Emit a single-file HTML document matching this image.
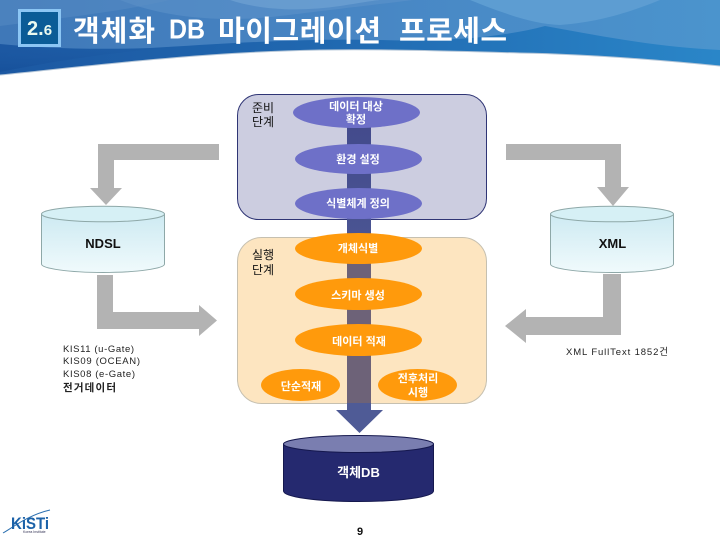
<!DOCTYPE html>
<html lang="ko">
<head>
<meta charset="utf-8">
<style>
html,body{margin:0;padding:0;background:#fff}
svg{display:block}
text{font-family:"Liberation Sans","Noto Sans CJK KR","NanumGothic",sans-serif}
</style>
</head>
<body>
<svg xmlns="http://www.w3.org/2000/svg" width="720" height="540" viewBox="0 0 720 540">
<defs>
<linearGradient id="hd" x1="0" y1="0" x2="1" y2="0">
<stop offset="0" stop-color="#1c58a2"/><stop offset=".45" stop-color="#2068b0"/><stop offset="1" stop-color="#2a86c8"/>
</linearGradient>
<linearGradient id="hl" x1="0" y1="0" x2="1" y2="0">
<stop offset="0" stop-color="#3f78b8"/><stop offset=".5" stop-color="#4886c4"/><stop offset="1" stop-color="#4b94cd"/>
</linearGradient>
<linearGradient id="cy" x1="0" y1="0" x2="0" y2="1">
<stop offset="0" stop-color="#cdeaf2"/><stop offset="1" stop-color="#f0fafc"/>
</linearGradient>
<linearGradient id="ar" x1="0" y1="0" x2="0" y2="1">
<stop offset="0" stop-color="#434a8c"/><stop offset="1" stop-color="#4a5492"/>
</linearGradient>
<linearGradient id="sh" x1="0" y1="0" x2="0" y2="1">
<stop offset="0" stop-color="#1c58a2" stop-opacity="0"/><stop offset="1" stop-color="#16509a" stop-opacity=".85"/>
</linearGradient>
</defs>
<rect width="720" height="540" fill="#fff"/>

<!-- header -->
<path d="M0 0H720V66C640 58 580 54 520 53C450 51 380 49 320 50C200 52 90 66 0 75Z" fill="url(#hd)"/>
<path d="M0 0H720V50C660 47 610 38 545 26C500 38 440 42 380 40C300 38 220 44 150 48C90 50 40 48 0 44Z" fill="url(#hl)"/>
<path d="M0 44C50 50 110 50 180 47C110 52 50 62 0 72Z" fill="url(#sh)"/>
<path d="M120 0C170 20 230 22 280 16C330 10 380 4 413 0Z" fill="#5f93cb" opacity=".55"/>
<path d="M230 0C260 10 300 12 340 6C360 3 370 1 380 0Z" fill="#75a6d6" opacity=".6"/>
<path d="M470 0C510 16 535 24 560 25C600 22 630 12 660 0Z" fill="#5d9dd2"/>
<path d="M0 0H170C120 12 60 18 0 26Z" fill="#5a8ec6" opacity=".45"/>
<path d="M0 75C90 66 200 52 320 50C380 49 450 51 520 53C580 54 640 58 720 66" fill="none" stroke="#b4c6d8" stroke-width="1"/>

<rect x="19.500" y="10.500" width="40" height="35" fill="#0b5c97" stroke="#8cc6f4" stroke-width="3"/>
<text x="27" y="35" font-size="20" font-weight="bold" fill="#eafaf0">2.<tspan font-size="15">6</tspan></text>
<g font-size="29" font-weight="bold" fill="#fff">
<text x="73" y="41" textLength="82" lengthAdjust="spacing">객체화</text>
<text x="169" y="38.500" font-size="28" textLength="36" lengthAdjust="spacingAndGlyphs">DB</text>
<text x="218" y="41" textLength="163" lengthAdjust="spacing">마이그레이션</text>
<text x="399" y="41" textLength="108" lengthAdjust="spacing">프로세스</text>
</g>

<!-- stage panels -->
<rect x="237.500" y="94.500" width="249" height="125" rx="21" fill="#cccde0" stroke="#2f3575" stroke-width="1"/>
<rect x="237.500" y="237.500" width="249" height="166" rx="24" fill="#fde5c0" stroke="#c6c0b0" stroke-width="1"/>

<!-- central bars -->
<rect x="347" y="120" width="24" height="118" fill="url(#ar)"/>
<rect x="347" y="238" width="24" height="166" fill="#6d6278"/>
<path d="M347 403H371V410H383L359.500 433L336 410H347Z" fill="#4f5b96"/>

<!-- purple ellipses -->
<g fill="#6e70c8">
<ellipse cx="356.500" cy="112.500" rx="63.500" ry="15.500"/>
<ellipse cx="358.500" cy="159" rx="63.500" ry="15"/>
<ellipse cx="358.500" cy="203.500" rx="63.500" ry="15.500"/>
</g>
<!-- orange ellipses -->
<g fill="#ff9a0c">
<ellipse cx="358.500" cy="248.500" rx="63.500" ry="15.500"/>
<ellipse cx="358.500" cy="294" rx="63.500" ry="16"/>
<ellipse cx="358.500" cy="340" rx="63.500" ry="16"/>
<ellipse cx="300.500" cy="385" rx="39.500" ry="16"/>
<ellipse cx="417.500" cy="385" rx="39.500" ry="16"/>
</g>

<g font-size="11" font-weight="bold" fill="#fff" text-anchor="middle">
<text x="356" y="110">데이터 대상</text>
<text x="356" y="123">확정</text>
<text x="358" y="163">환경 설정</text>
<text x="358" y="207">식별체계 정의</text>
<text x="358" y="252">개체식별</text>
<text x="358" y="299">스키마 생성</text>
<text x="359" y="345">데이터 적재</text>
<text x="301" y="390">단순적재</text>
<text x="418" y="382">전후처리</text>
<text x="418" y="396">시행</text>
</g>

<g font-size="12" fill="#111">
<text x="252" y="112">준비</text>
<text x="252" y="126">단계</text>
<text x="252" y="259">실행</text>
<text x="252" y="274">단계</text>
</g>

<!-- gray arrows -->
<g fill="#b3b3b3">
<path d="M219 144H98V188H90L106 205L122 188H114V160H219Z"/>
<path d="M97 275H113V312H199V305L217 320.500L199 336V329H97Z"/>
<path d="M506 144H621V187H629L613 206L597 187H605V160H506Z"/>
<path d="M603 274H621V335H526V343L505 326L526 309V317H603Z"/>
</g>

<!-- NDSL cylinder -->
<path d="M41.500 214V264C41.500 268.500 69 272.500 103 272.500S164.500 268.500 164.500 264V214Z" fill="url(#cy)" stroke="#8ea8a8"/>
<ellipse cx="103" cy="214" rx="61.500" ry="7.800" fill="#d6f0f5" stroke="#8ea8a8"/>
<text x="103" y="248" font-size="13" font-weight="bold" fill="#111" text-anchor="middle">NDSL</text>

<!-- XML cylinder -->
<path d="M550.500 214V264C550.500 268.500 578 272.500 612 272.500S673.500 268.500 673.500 264V214Z" fill="url(#cy)" stroke="#8ea8a8"/>
<ellipse cx="612" cy="214" rx="61.500" ry="7.800" fill="#d6f0f5" stroke="#8ea8a8"/>
<text x="612.500" y="248" font-size="13" font-weight="bold" fill="#111" text-anchor="middle">XML</text>

<!-- labels -->
<g font-size="9.500" fill="#222">
<text x="63" y="352" textLength="71" lengthAdjust="spacing">KIS11 (u-Gate)</text>
<text x="63" y="364" textLength="77" lengthAdjust="spacing">KIS09 (OCEAN)</text>
<text x="63" y="377" textLength="72" lengthAdjust="spacing">KIS08 (e-Gate)</text>
<text x="63" y="391" font-size="10.500" font-weight="bold" textLength="53" lengthAdjust="spacing">전거데이터</text>
<text x="566" y="355" textLength="102" lengthAdjust="spacing">XML FullText 1852건</text>
</g>

<!-- target DB -->
<path d="M283.500 444V491C283.500 497 317 501.500 358.500 501.500S433.500 497 433.500 491V444Z" fill="#25296f" stroke="#15184e"/>
<ellipse cx="358.500" cy="444" rx="75" ry="8.500" fill="#7a7eb0" stroke="#15184e"/>
<text x="358.500" y="477" font-size="13" font-weight="bold" fill="#fff" text-anchor="middle">객체DB</text>

<text x="360" y="535" font-size="11" font-weight="bold" fill="#111" text-anchor="middle">9</text>

<!-- logo -->
<path d="M3 533C12 528 28 515 50 510" fill="none" stroke="#2a6fb0" stroke-width="1"/>
<text x="11" y="529" font-size="17" font-weight="bold" fill="#1c62a8" textLength="38" lengthAdjust="spacingAndGlyphs">KiSTi</text>
<text x="23" y="533" font-size="3.500" fill="#335">Korea Institute</text>
</svg>
</body>
</html>
